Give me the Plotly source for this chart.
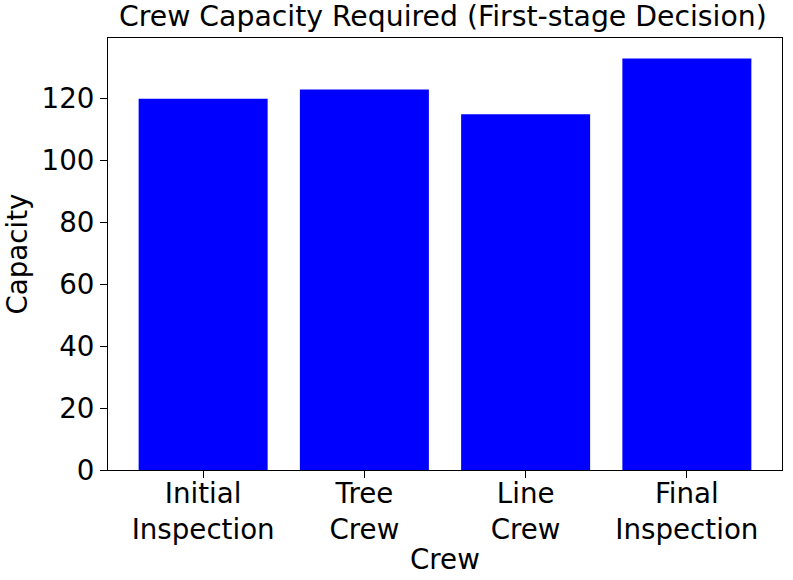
import plotly.graph_objects as go

crews = ["Initial<br>Inspection", "Tree<br>Crew", "Line<br>Crew", "Final<br>Inspection"]
capacity = [120, 123, 115, 133]
y_ticks = [0, 20, 40, 60, 80, 100, 120]

FONT = "DejaVu Sans"
FS = 27.7

fig = go.Figure(go.Bar(x=list(range(len(crews))), y=capacity, marker=dict(color="#0000FF", line=dict(width=0)), width=0.8))

W, H = 793, 580
ml, mr, mt, mb = 108, 11, 38, 110
pw, ph = W - ml - mr, H - mt - mb

fig.update_layout(
    width=W, height=H,
    margin=dict(l=ml, r=mr, t=mt, b=mb, pad=0, autoexpand=False),
    paper_bgcolor="white", plot_bgcolor="white",
    font=dict(family=FONT, size=FS, color="black"),
    showlegend=False,
    xaxis=dict(range=[-0.59, 3.59], tickmode="array", tickvals=list(range(len(crews))), ticktext=crews,
               showline=True, mirror=True, linecolor="black", linewidth=1, ticks="outside", ticklen=7, tickwidth=1,
               tickcolor="black", showgrid=False, zeroline=False, automargin=False, ticklabelstandoff=-8),
    yaxis=dict(range=[0, 139.65], tickmode="array", tickvals=y_ticks,
               showline=True, mirror=True, linecolor="black", linewidth=1, ticks="outside", ticklen=7, tickwidth=1,
               tickcolor="black", showgrid=False, zeroline=False, automargin=False),
    annotations=[
        dict(text="Crew Capacity Required (First-stage Decision)", xref="paper", yref="paper",
             x=(442.5 - ml) / pw, y=1 + (mt - 16) / ph, xanchor="center", yanchor="middle",
             showarrow=False, font=dict(family=FONT, size=28.3, color="black")),
        dict(text="Capacity", textangle=-90, xref="paper", yref="paper",
             x=(16.5 - ml) / pw, y=0.5, xanchor="center", yanchor="middle",
             showarrow=False, font=dict(family=FONT, size=FS, color="black")),
        dict(text="Crew", xref="paper", yref="paper",
             x=0.5, y=-(559 - (H - mb)) / ph, xanchor="center", yanchor="middle",
             showarrow=False, font=dict(family=FONT, size=FS, color="black")),
    ],
)

fig.write_html("out.html", config={"displayModeBar": False, "staticPlot": True},
               post_script="document.body.style.margin='0';document.body.style.overflow='hidden';")
